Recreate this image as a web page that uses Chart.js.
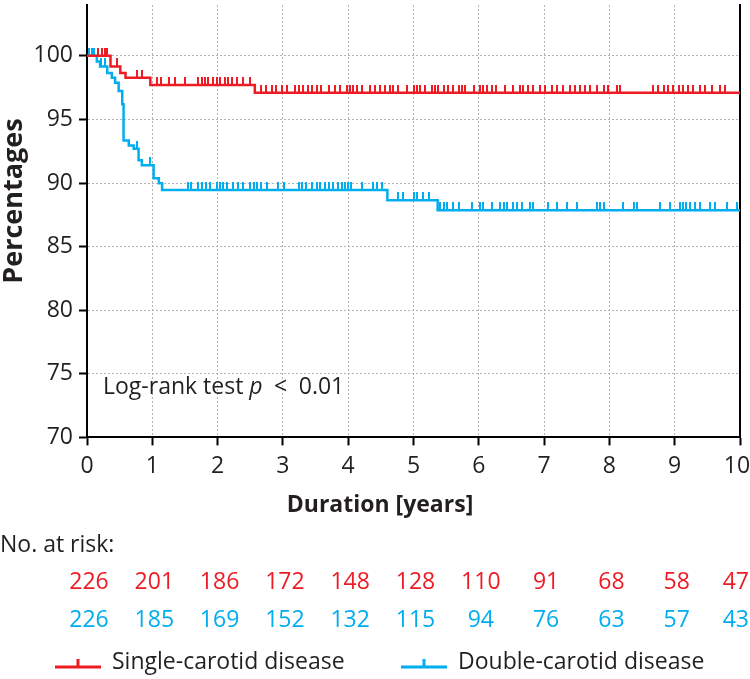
<!DOCTYPE html>
<html lang="en">
<head>
<meta charset="UTF-8">
<title>Survival by carotid disease</title>
<script src="https://cdn.jsdelivr.net/npm/chart.js"></script>
<style>
  html, body { margin: 0; padding: 0; background: #fff; }
  #wrap { width: 750px; height: 679px; }
</style>
</head>
<body>
<div id="wrap"><canvas id="kmChart" width="750" height="679"></canvas></div>
<script>
// x axis (years) and the no-at-risk table
const yearTicks = [0, 1, 2, 3, 4, 5, 6, 7, 8, 9, 10];
const singleRisk = [226, 201, 186, 172, 148, 128, 110, 91, 68, 58, 47];
const doubleRisk = [226, 185, 169, 152, 132, 115, 94, 76, 63, 57, 43];

// step curves: time of each drop and the level after it
const singleStepTimes = [0, 0.36, 0.51, 0.59, 0.97, 2.57, 10];
const singleStepValues = [100, 99.17, 98.66, 98.27, 97.7, 97.1, 97.1];
const doubleStepTimes = [0, 0.15, 0.2, 0.31, 0.38, 0.43, 0.485, 0.54, 0.56, 0.64, 0.715, 0.79, 0.84, 1.02, 1.1, 1.15, 4.6, 5.37, 10];
const doubleStepValues = [100, 99.56, 99.17, 98.66, 98.27, 97.88, 97.23, 96.2, 93.35, 92.96, 92.7, 91.8, 91.4, 90.37, 89.98, 89.46, 88.65, 87.87, 87.87];

// censored observations (years)
const singleCensor = [0.17, 0.23, 0.28, 0.31, 0.46, 0.77, 0.84, 1.07, 1.14, 1.25, 1.35, 1.5, 1.7, 1.76, 1.81, 1.86, 1.93, 1.99, 2.04, 2.11, 2.16, 2.22, 2.29, 2.39, 2.5,
  2.67, 2.74, 2.83, 2.89, 2.98, 3.06, 3.19, 3.25, 3.31, 3.39, 3.44, 3.52, 3.59, 3.7, 3.8, 3.87, 3.98, 4.03, 4.08, 4.13, 4.21, 4.33, 4.41, 4.49, 4.56, 4.64, 4.69, 4.77, 4.9,
  5.0, 5.05, 5.1, 5.18, 5.28, 5.33, 5.38, 5.46, 5.53, 5.61, 5.69, 5.74, 5.79, 5.92, 6.02, 6.07, 6.12, 6.2, 6.27, 6.4, 6.53, 6.63, 6.68, 6.76, 6.83, 6.94,
  7.01, 7.12, 7.19, 7.29, 7.4, 7.47, 7.55, 7.63, 7.7, 7.81, 7.91, 7.98, 8.11, 8.16, 8.67, 8.75, 8.83, 8.9, 8.98, 9.06, 9.13, 9.21, 9.28, 9.39, 9.46, 9.57, 9.69, 9.77];
const doubleCensor = [0.03, 0.07, 0.11, 0.22, 0.27, 0.77, 0.97, 1.55, 1.6, 1.7, 1.76, 1.83, 1.88, 1.99, 2.04, 2.09, 2.14, 2.24, 2.32, 2.39, 2.5, 2.55, 2.6, 2.67, 2.75,
  2.93, 3.01, 3.24, 3.29, 3.36, 3.44, 3.52, 3.57, 3.64, 3.7, 3.77, 3.84, 3.9, 3.95, 4.0, 4.05, 4.21, 4.38, 4.44, 4.51, 4.77, 4.84, 5.0, 5.05, 5.15, 5.23,
  5.41, 5.46, 5.51, 5.61, 5.69, 5.89, 6.02, 6.07, 6.2, 6.32, 6.38, 6.43, 6.53, 6.58, 6.66, 6.78, 6.83, 7.06, 7.19, 7.35, 7.5, 7.81, 7.86, 7.91,
  8.21, 8.37, 8.42, 8.77, 8.93, 9.08, 9.13, 9.18, 9.23, 9.31, 9.39, 9.54, 9.62, 9.8, 9.95];

const RED = '#ed1c24';
const BLUE = '#00aeef';
const TEXT = '#231f20';
const FONT = '"Open Sans", "Noto Sans", sans-serif';

// level of a step curve at time t
function levelAt(times, values, t) {
    let v = values[0];
    for (let i = 0; i < times.length; i++) {
        if (times[i] <= t) v = values[i];
    }
    return v;
}

// small upward tick used for censor marks (drawn centred, so only top half is painted)
function censorMark(color) {
    const c = document.createElement('canvas');
    c.width = 2;
    c.height = 16;
    const g = c.getContext('2d');
    g.fillStyle = color;
    g.fillRect(0, 0, 2, 8);
    return c;
}

const stepData = (times, values) => times.map((t, i) => ({ x: t, y: values[i] }));
const censorData = (cens, times, values) => cens.map(t => ({ x: t, y: levelAt(times, values, t) }));

const bottomTextPlugin = {
    id: 'bottomText',
    afterDraw(chart) {
        const ctx = chart.ctx;
        const xs = chart.scales.x;
        ctx.save();
        ctx.textBaseline = 'middle';

        // y axis title, sits a little above the middle of the plot like the original
        ctx.save();
        ctx.translate(14, 201);
        ctx.rotate(-Math.PI / 2);
        ctx.fillStyle = TEXT;
        ctx.font = 'bold 27px ' + FONT;
        ctx.textAlign = 'center';
        ctx.fillText('Percentages', 0, 0);
        ctx.restore();

        // log-rank annotation inside the plot
        ctx.fillStyle = TEXT;
        ctx.textAlign = 'left';
        let ax = 103;
        const parts = [['Log-rank test ', ''], ['p', 'italic '], ['\u2002<\u20020.01', '']];
        parts.forEach(([txt, style]) => {
            ctx.font = style + '23px ' + FONT;
            ctx.fillText(txt, ax, 387);
            ax += ctx.measureText(txt).width;
        });

        ctx.font = 'bold 23px ' + FONT;
        ctx.textAlign = 'center';
        ctx.fillText('Duration [years]', 380, 505);

        ctx.font = '23px ' + FONT;
        ctx.textAlign = 'left';
        ctx.fillText('No. at risk:', 0, 545);

        const rows = [[singleRisk, RED, 582], [doubleRisk, BLUE, 620]];
        rows.forEach(([vals, color, y]) => {
            ctx.fillStyle = color;
            vals.forEach((v, i) => {
                const txt = String(v);
                const w = ctx.measureText(txt).width;
                let cx = xs.getPixelForValue(yearTicks[i]) + 2;
                if (cx + w / 2 > 749) cx = 749 - w / 2;
                ctx.textAlign = 'center';
                ctx.fillText(txt, cx, y);
            });
        });

        // legend
        const items = [[chart.data.datasets[0].label, RED, 55], [chart.data.datasets[2].label, BLUE, 401]];
        items.forEach(([label, color, x0]) => {
            ctx.strokeStyle = color;
            ctx.lineWidth = 3;
            ctx.beginPath();
            ctx.moveTo(x0, 667);
            ctx.lineTo(x0 + 46, 667);
            ctx.moveTo(x0 + 23, 667);
            ctx.lineTo(x0 + 23, 659);
            ctx.stroke();
            ctx.fillStyle = TEXT;
            ctx.textAlign = 'left';
            ctx.fillText(label, x0 + 57, 662);
        });
        ctx.restore();
    }
};

const ctx = document.getElementById('kmChart').getContext('2d');
new Chart(ctx, {
    type: 'line',
    data: {
        datasets: [
            {
                label: 'Single-carotid disease',
                data: stepData(singleStepTimes, singleStepValues),
                stepped: true,
                borderColor: RED,
                borderWidth: 2.5,
                pointRadius: 0,
                fill: false
            },
            {
                label: 'single censored',
                data: censorData(singleCensor, singleStepTimes, singleStepValues),
                showLine: false,
                pointStyle: censorMark(RED),
                pointRadius: 3
            },
            {
                label: 'Double-carotid disease',
                data: stepData(doubleStepTimes, doubleStepValues),
                stepped: true,
                borderColor: BLUE,
                borderWidth: 2.5,
                pointRadius: 0,
                fill: false
            },
            {
                label: 'double censored',
                data: censorData(doubleCensor, doubleStepTimes, doubleStepValues),
                showLine: false,
                pointStyle: censorMark(BLUE),
                pointRadius: 3
            }
        ]
    },
    options: {
        responsive: false,
        animation: false,
        devicePixelRatio: 1,
        layout: { padding: { left: 0, right: 0, top: 0, bottom: 192 } },
        plugins: {
            legend: { display: false },
            tooltip: { enabled: false }
        },
        scales: {
            x: {
                type: 'linear',
                min: 0,
                max: 10,
                ticks: {
                    stepSize: 1,
                    color: TEXT,
                    font: { family: FONT, size: 23 },
                    padding: 7,
                    // trailing space nudges the last label left so it stays inside the canvas
                    callback: v => (v === 10 ? '10\u00a0' : String(v))
                },
                grid: {
                    color: c => (c.tick && (c.tick.value === 0 || c.tick.value === 10)) ? 'rgba(0,0,0,0)' : '#b4b4b4',
                    lineWidth: 1,
                    tickColor: '#000',
                    tickLength: 8,
                    tickWidth: 2,
                    tickBorderDash: []
                },
                border: { color: '#000', width: 2, dash: [2, 2] },
                afterFit: s => { s.paddingRight = 10; }
            },
            y: {
                min: 70,
                max: 104,
                ticks: {
                    stepSize: 5,
                    includeBounds: false,
                    color: TEXT,
                    font: { family: FONT, size: 23 },
                    padding: 6
                },
                grid: {
                    color: c => (c.tick && c.tick.value === 70) ? 'rgba(0,0,0,0)' : '#b4b4b4',
                    lineWidth: 1,
                    tickColor: '#000',
                    tickLength: 8,
                    tickWidth: 2,
                    tickBorderDash: []
                },
                border: { color: '#000', width: 2, dash: [2, 2] },
                afterFit: s => { s.width = 87; s.paddingTop = 0; s.paddingBottom = 0; }
            },
            y2: {
                position: 'right',
                min: 70,
                max: 104,
                grid: { display: false },
                ticks: { display: false },
                border: { color: '#000', width: 2 },
                afterFit: s => { s.width = 0; }
            }
        }
    },
    plugins: [bottomTextPlugin]
});
</script>
</body>
</html>
